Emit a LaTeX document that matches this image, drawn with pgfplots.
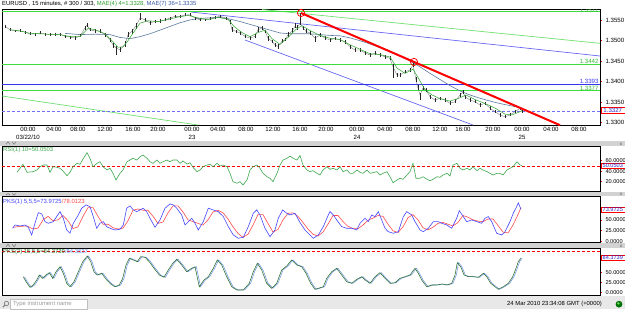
\documentclass[border=0pt]{standalone}
\usepackage{fontspec}
\setmainfont{Liberation Sans}
\usepackage{pgfplots}
\usepackage{pgfplotstable}
\pgfplotsset{compat=1.18}

\definecolor{sepgray}{HTML}{D2D2D2}
\definecolor{statusgray}{HTML}{E8E8E8}
\definecolor{lvlgreen}{HTML}{3DDC3D}
\definecolor{lvlblue}{HTML}{3434F0}
\definecolor{chanblue}{HTML}{6868F4}
\definecolor{changreen}{HTML}{70E070}
\definecolor{maslow}{HTML}{5B7A9E}
\definecolor{mafast}{HTML}{3BAA3B}
\definecolor{rsigreen}{HTML}{3DA84D}
\definecolor{pksblue}{HTML}{4646FF}
\definecolor{pksred}{HTML}{FF4A4A}
\definecolor{pkgreen}{HTML}{2A6E2E}
\definecolor{pkblue}{HTML}{6A90E0}
\definecolor{titleblue}{HTML}{3A5BA8}
\definecolor{titlegreen}{HTML}{2EA02E}
\definecolor{boxtext}{HTML}{2424C8}

\newcommand{\tickfont}{\fontsize{6.1}{7.3}\selectfont}
\newcommand{\osctickfont}{\fontsize{5.6}{6.5}\selectfont}
\newcommand{\smallfont}{\fontsize{5.9}{7}\selectfont}

% EURUSD 15-minute bars: position, close, upper wick, lower wick
\pgfplotstableread{
x c up dn
5 1.35352 .0004 .0004
10 1.35269 .0005 .0003
15 1.35244 .0003 .0004
20 1.35237 .0004 .0003
25 1.35212 .0003 .0004
30 1.35163 .0005 .0003
35 1.35163 .0003 .0004
40 1.35188 .0004 .0003
45 1.35163 .0003 .0004
50 1.35151 .0004 .0003
55 1.35146 .0004 .0004
60 1.35163 .0003 .0004
65 1.35107 .0004 .0005
70 1.35090 .0003 .0004
75 1.35065 .0004 .0005
80 1.35114 .0006 .0003
85 1.35310 .0006 .0005
87 1.35384 .0005 .0004
90 1.35269 .0005 .0004
95 1.35237 .0004 .0004
100 1.35237 .0004 .0005
105 1.35146 .0005 .0005
110 1.35024 .0004 .0006
113 1.34901 .0005 .0008
116 1.34820 .0006 .0016
120 1.34779 .0007 .0006
125 1.34901 .0008 .0005
128 1.35146 .0007 .0006
132 1.35237 .0006 .0007
136 1.35359 .0008 .0006
140 1.35555 .0012 .0005
145 1.35514 .0005 .0005
150 1.35433 .0004 .0004
155 1.35475 .0004 .0004
160 1.35475 .0005 .0003
165 1.35514 .0004 .0004
170 1.35555 .0003 .0004
175 1.35597 .0004 .0003
180 1.35597 .0003 .0004
185 1.35629 .0004 .0003
190 1.35636 .0004 .0003
195 1.35555 .0003 .0005
200 1.35514 .0004 .0004
205 1.35514 .0003 .0004
210 1.35538 .0004 .0003
215 1.35573 .0003 .0004
220 1.35597 .0004 .0003
226 1.35555 .0003 .0005
230 1.35475 .0004 .0006
232 1.35269 .0006 .0005
236 1.35230 .0004 .0005
240 1.35188 .0005 .0004
245 1.35107 .0004 .0005
250 1.35065 .0005 .0004
255 1.35107 .0006 .0004
258 1.35269 .0006 .0005
262 1.35310 .0005 .0004
265 1.35230 .0004 .0005
268 1.35065 .0005 .0006
272 1.34985 .0004 .0005
275 1.34901 .0004 .0006
278 1.34862 .0005 .0006
282 1.34985 .0006 .0004
285 1.35024 .0005 .0004
288 1.35146 .0006 .0005
292 1.35230 .0007 .0004
295 1.35352 .0009 .0005
297 1.35310 .0008 .0005
300 1.35433 .00245 .0005
303 1.35310 .0006 .0005
306 1.35230 .0005 .0004
310 1.35188 .0004 .0005
315 1.35065 .0005 .0009
320 1.35139 .0004 .0005
325 1.35065 .0004 .0004
330 1.35016 .0005 .0004
335 1.35058 .0004 .0005
340 1.35016 .0004 .0004
345 1.34975 .0005 .0005
350 1.34852 .0004 .0005
355 1.34771 .0005 .0004
360 1.34771 .0004 .0005
365 1.34698 .0005 .0004
370 1.34649 .0004 .0005
375 1.34691 .0005 .0004
380 1.34649 .0004 .0004
385 1.34607 .0004 .0005
390 1.34568 .0005 .0004
393 1.34362 .0006 .0028
397 1.34159 .0005 .0005
400 1.34159 .0004 .0005
405 1.34240 .0005 .0004
410 1.34281 .0005 .0004
413 1.34404 .0007 .0005
416 1.34036 .0008 .0006
418 1.33840 .0007 .0006
420 1.33669 .0005 .0012
423 1.33840 .0005 .0005
426 1.33791 .0004 .0006
430 1.33627 .0005 .0005
435 1.33546 .0005 .0004
440 1.33588 .0004 .0005
445 1.33546 .0005 .0004
450 1.33466 .0005 .0004
455 1.33505 .0006 .0004
460 1.33669 .0006 .0005
463 1.33750 .0004 .0006
465 1.33627 .0005 .0005
470 1.33546 .0004 .0005
475 1.33505 .0005 .0004
480 1.33424 .0004 .0005
485 1.33466 .0004 .0004
490 1.33343 .0005 .0004
495 1.33260 .0004 .0004
500 1.33179 .0004 .0005
505 1.33137 .0004 .0004
510 1.33179 .0005 .0003
515 1.33260 .0004 .0004
520 1.33343 .0003 .0004
522 1.33270 .0004 .0003
}\pricetab

% RSI(1) 10
\pgfplotstableread{
x v
17 37.7
20 45.3
23 52.8
27 37.7
33 38.9
37 42.1
40 48.3
43 51.5
47 51.5
50 37.7
53 48.3
57 47.2
60 45.3
63 40.2
67 31.3
70 37.7
73 48.3
77 54.7
80 52.8
83 62.8
87 74.7
90 64.2
93 48.3
97 54.7
100 57.7
103 48.3
107 42.1
110 45.3
113 35.8
116 23.2
120 35.8
123 42.1
127 57.7
130 60.9
133 64.2
137 60.9
140 67.2
143 70.4
147 64.2
150 57.7
153 54.7
157 60.9
160 54.7
163 57.7
167 60.9
170 57.7
173 60.9
177 60.9
180 54.7
183 59.1
187 53.4
190 55.8
193 47.2
197 38.9
200 42.1
203 48.3
207 51.5
210 52.8
213 48.3
217 54.7
220 49.6
223 51.5
227 48.3
230 35.8
233 20.0
237 17.0
240 20.0
243 13.8
247 23.2
250 42.1
253 48.3
257 51.5
260 45.3
263 35.8
267 29.4
270 26.4
273 20.0
277 35.8
280 51.5
283 60.9
287 64.2
290 68.5
293 64.2
297 60.9
300 69.4
303 51.5
307 42.1
310 38.9
313 40.8
317 35.8
320 32.6
323 42.1
327 48.3
330 43.4
333 45.3
337 42.1
340 48.3
343 38.9
347 42.1
350 35.8
353 35.8
357 42.1
360 37.7
363 35.8
367 42.1
370 35.8
373 37.0
377 38.9
380 32.6
383 35.8
387 38.9
390 29.4
393 18.1
397 23.2
400 26.4
403 24.5
407 32.6
410 38.9
413 54.7
416 26.4
420 26.4
423 29.4
427 24.5
430 21.9
433 24.5
437 29.4
440 28.3
443 32.6
447 35.8
450 30.8
453 51.5
457 54.7
460 45.3
463 42.1
467 45.3
470 42.1
473 48.3
477 40.8
480 45.3
483 42.1
487 38.9
490 35.8
493 32.6
497 35.8
500 35.8
503 32.6
507 42.1
510 45.3
513 48.3
517 57.7
520 51.5
522 50.05
}\rsitab

% PKS(1) 5,5,5 main line
\pgfplotstableread{
x v
12.7 30.7
15 38.3
20 36.0
25 38.3
28.3 33.0
31.7 15.4
35 42.2
38.3 66.5
41.7 63.5
45 45.9
48.3 42.2
53.3 45.9
56.7 57.4
60 68.8
63.3 53.7
66.7 26.8
70 19.3
73.3 42.2
78.3 61.2
81.7 76.6
86 84.2
90 80.3
93.3 57.4
96.7 30.7
100 42.2
103.3 45.9
106.7 34.4
110 30.7
115 26.8
120 28.4
123.3 38.3
126.7 76.6
130 81.9
133.3 72.7
136.7 68.8
140 72.7
143.3 76.6
146.7 68.8
150 53.7
155 33.0
160 49.8
165 76.6
170 86.5
173.3 84.2
176.7 76.6
181.7 61.2
185 38.3
188.3 45.9
191.7 53.7
195 42.2
198.3 26.8
203.3 45.9
208.3 76.6
213.3 72.7
218.3 68.8
223.3 57.4
228.3 34.4
233.3 15.4
238.3 7.8
243.3 10.1
248.3 34.4
253.3 65.1
256.7 72.7
260 61.2
265 30.7
270 11.5
275 26.8
278.3 53.7
282.7 72.7
286.7 65.1
290 61.2
295 65.1
300 44.0
305 26.8
310 15.4
313.3 7.8
318.3 15.4
323.3 34.4
328.3 61.2
330 68.8
333.3 61.2
336.7 49.8
341.7 34.4
346.7 30.7
351.7 30.7
356.7 26.8
360 42.2
365 53.7
368.3 45.9
371.7 61.2
375 57.4
378.3 68.8
381.7 49.8
385 30.7
388.3 22.9
393.3 19.3
398.3 22.9
403.3 57.4
406.7 68.8
411.7 61.2
415 45.9
420 26.8
423.3 22.9
428.3 30.7
433.3 45.9
438.3 45.9
441.7 42.2
446.7 38.3
451.7 30.7
456.7 53.7
459.3 71.1
463.3 57.4
466.7 45.9
471.7 49.8
476.7 45.9
481.7 42.2
485 53.7
488.3 57.4
491.7 45.9
496.7 19.3
501.7 15.4
505 22.9
510 45.9
513.3 65.1
516.7 80.3
518.3 88.8
521 74.0
}\pksk

% PKS(1) 5,5,5 signal line
\pgfplotstableread{
x v
13 33
20 35
27 36
33 29
38 31
43 50
48 58
53 48
58 50
63 60
68 48
73 30
78 34
83 58
88 78
93 78
98 58
103 40
108 40
113 32
118 29
123 31
128 48
133 72
138 75
143 72
148 72
153 58
158 42
163 45
168 66
173 82
178 82
183 68
188 50
193 46
198 42
203 38
208 50
213 68
218 72
223 66
228 52
233 34
238 19
243 10
248 17
253 38
258 62
263 62
268 42
273 22
278 28
283 50
288 65
293 66
298 58
303 44
308 29
313 17
318 13
323 22
328 40
333 60
338 60
343 46
348 35
353 30
358 30
363 38
368 49
373 54
378 60
383 58
388 40
393 25
398 21
403 34
408 55
413 62
418 50
423 32
428 27
433 33
438 42
443 44
448 40
453 36
458 44
463 60
468 56
473 50
478 47
483 46
488 52
493 52
498 37
503 22
508 20
513 38
518 62
521 78
}\pksd

% PKS(2) 15,5,5
\pgfplotstableread{
x v
23.3 39.0
26 26.8
30 13.2
33.3 18.8
36.7 31.0
39.3 43.2
42.7 35.1
46 43.2
49.3 48.8
52.7 35.1
56 51.2
60 63.4
63.3 47.3
66.7 22.9
70 14.6
74 26.8
78.3 51.2
82.7 75.6
87.3 89.5
90.7 75.6
94 51.2
97.3 43.2
101.7 47.3
106.7 31.0
110.7 21.2
115 14.6
119.3 18.8
122.7 35.1
126 67.6
129.3 83.9
133.3 79.8
137.3 75.6
140.7 87.8
145 86.3
149.3 75.6
154 59.5
159.3 43.2
164 37.6
168.3 55.4
172.7 71.7
176.7 81.5
181.7 67.6
186.7 51.2
191.7 59.5
195 63.4
199.3 14.6
204 31.0
208.3 39.0
213.3 59.5
217.3 79.8
221.7 67.6
226.7 39.0
231.7 14.6
236.7 6.6
243.3 6.6
249.3 22.9
253.3 51.2
257.3 71.7
261.7 55.4
266.7 22.9
271.7 10.7
276.7 22.9
281.7 55.4
286.7 65.1
291.7 79.8
296.7 67.6
301.7 63.4
306 47.3
310.7 22.9
315 8.3
318.3 10.7
323.3 14.6
326.7 35.1
331.7 51.2
336.7 59.5
341.7 43.2
346.7 26.8
351.7 22.9
356.7 32.7
361.7 39.0
365 31.0
370 22.9
375 39.0
380 48.8
385 35.1
390 22.9
395 24.4
400 35.1
405 39.0
410 43.2
415 59.5
418.3 47.3
421.7 31.0
426.7 14.6
431.7 18.8
436.7 18.8
441.7 21.2
446.7 18.8
451.7 22.9
455 43.2
457.3 73.2
460.7 63.4
464 43.2
468.3 39.0
473.3 39.0
478.3 37.6
483.3 47.3
486.7 39.0
490.7 22.9
495 14.6
498.3 8.3
503.3 14.6
508.3 22.9
512.7 39.0
516 59.5
518.3 75.6
520 81.5
521 84.4
}\pkstwo

\pgfplotsset{
  panel/.style={
    scale only axis, anchor=north west,
    xmin=2, xmax=600, width=598pt,
    axis line style={black, line width=0.8pt},
    ticklabel style={font=\tickfont},
    ytick pos=right, yticklabel pos=right,
    ytick style={red, line width=0.6pt},
    major tick length=2pt, tick align=outside,
    xtick=\empty,
    yticklabel style={/pgf/number format/.cd, fixed, fixed zerofill, precision=4},
    /pgf/number format/assume math mode=true,
  },
  oscillator/.style={panel, ticklabel style={font=\osctickfont}},
}

\begin{document}
\begin{tikzpicture}
\useasboundingbox (0pt,0pt) rectangle (625pt,309pt);
\fill[white] (0pt,0pt) rectangle (625pt,309pt);

% ---------------- price panel ----------------
\begin{axis}[panel, at={(2pt,299.5pt)}, height=115.5pt,
  ymin=1.32934, ymax=1.35765,
  ytick={1.33,1.335,1.34,1.345,1.35,1.355},
  xtick={28,54,78,105,133,158,192,218,246,273,300,326,357,385,413,440,463,493,522,551,579},
  xticklabels={{00:00\\03/22/10},04:00,08:00,12:00,16:00,20:00,{00:00\\23},04:00,08:00,12:00,16:00,20:00,{00:00\\24},04:00,08:00,12:00,16:00,20:00,{00:00\\25},04:00,08:00},
  xtick style={draw=none},
  xticklabel style={align=center, anchor=north, inner sep=0.5pt},
]
% channels and levels
\addplot[changreen, line width=0.7pt] coordinates {(262,1.35765) (600,1.34936)};
\addplot[changreen, line width=0.7pt] coordinates {(2,1.33645) (198,1.32934)};
\addplot[chanblue, line width=0.7pt] coordinates {(191,1.35703) (600,1.34625)};
\addplot[chanblue, line width=0.7pt] coordinates {(245,1.35017) (473,1.32934)};
\addplot[lvlgreen, line width=0.8pt] coordinates {(2,1.3571) (600,1.3571)};
\addplot[lvlgreen, line width=0.8pt] coordinates {(2,1.3442) (600,1.3442)};
\addplot[lvlgreen, line width=0.8pt] coordinates {(2,1.3377) (600,1.3377)};
\addplot[lvlblue, line width=0.8pt] coordinates {(2,1.3393) (600,1.3393)};
\addplot[lvlblue!70, line width=0.7pt, dashed, dash pattern=on 3pt off 2pt] coordinates {(2,1.3327) (600,1.3327)};
% moving averages
\addplot[maslow, line width=0.6pt] coordinates {
(65,1.3518) (80,1.3515) (95,1.3516) (110,1.3515) (120,1.3508) (130,1.3505)
(140,1.3510) (150,1.3517) (160,1.3526) (170,1.3535) (180,1.3544) (190,1.3551)
(200,1.3555) (210,1.3556) (220,1.3557) (230,1.3553) (240,1.3547) (250,1.3540)
(260,1.3533) (270,1.3526) (280,1.3519) (290,1.3517) (300,1.3517) (310,1.3517)
(320,1.3515) (330,1.3513) (340,1.3512) (350,1.3507) (360,1.3500) (370,1.3492)
(380,1.3483) (390,1.3474) (400,1.3462) (410,1.3450) (420,1.3436) (430,1.3420)
(440,1.3405) (450,1.3390) (460,1.3377) (470,1.3367) (480,1.3359) (490,1.3352)
(500,1.3346) (510,1.3341) (522,1.3335)};
% price bars
\addplot[black!55, line width=0.35pt,
  error bars/.cd, y dir=both, y explicit, error mark=none,
  error bar style={black!85, line width=0.45pt}]
  table[x=x, y=c, y error plus=up, y error minus=dn] {\pricetab};
\addplot[mafast, line width=0.55pt] coordinates {
(10,1.3527) (20,1.3524) (30,1.3518) (40,1.3517) (50,1.3516) (60,1.3515)
(70,1.3510) (80,1.3510) (88,1.3530) (95,1.3527) (105,1.3517) (112,1.3500)
(118,1.3484) (123,1.3485) (128,1.3500) (134,1.3522) (140,1.3543) (148,1.3549)
(158,1.3547) (168,1.3552) (178,1.3558) (188,1.3562) (198,1.3556) (208,1.3552)
(218,1.3557) (228,1.3553) (234,1.3535) (242,1.3520) (250,1.3510) (258,1.3520)
(265,1.3526) (272,1.3505) (280,1.3491) (288,1.3508) (296,1.3528) (302,1.3537)
(310,1.3525) (320,1.3513) (330,1.3506) (340,1.3503) (350,1.3490) (360,1.3479)
(370,1.3468) (380,1.3466) (390,1.3460) (397,1.3433) (405,1.3420) (413,1.3430)
(418,1.3410) (425,1.3380) (432,1.3367) (440,1.3358) (450,1.3352) (460,1.3360)
(466,1.3367) (475,1.3356) (485,1.3346) (495,1.3335) (505,1.3320) (512,1.3318)
(518,1.3324) (522,1.3328)};
% resistance trend line through the two touched highs
\addplot[red, line width=2pt] coordinates {(301,1.3568) (560,1.3293)};
\addplot[red, only marks, mark=o, mark size=3.6pt, mark options={line width=0.8pt}]
  coordinates {(301,1.3568) (414,1.3448)};
\node[anchor=south east, inner sep=0.3pt, font=\tickfont, text=lvlgreen!85!black] at (axis cs:599,1.3569) {1.3571};
\node[anchor=south east, inner sep=0.3pt, font=\tickfont, text=lvlgreen!85!black] at (axis cs:599,1.3442) {1.3442};
\node[anchor=south east, inner sep=0.3pt, font=\tickfont, text=lvlblue] at (axis cs:599,1.3393) {1.3393};
\node[anchor=south east, inner sep=0.3pt, font=\tickfont, text=lvlgreen!85!black] at (axis cs:599,1.3377) {1.3377};
\end{axis}

% ---------------- RSI panel ----------------
\begin{axis}[oscillator, at={(2pt,163pt)}, height=45.7pt,
  ymin=1.1, ymax=87.4, ytick={20,40,60}]
\addplot[red, line width=0.6pt, dashed, dash pattern=on 3pt off 2pt] coordinates {(2,50) (600,50)};
\addplot[rsigreen, line width=0.6pt] table[x=x, y=v] {\rsitab};
\end{axis}

% ---------------- PKS(1) panel ----------------
\begin{axis}[oscillator, at={(2pt,112.3pt)}, height=45.6pt,
  ymin=-1.4, ymax=103, ytick={0,25,50}]
\addplot[pksred, line width=0.6pt] table[x=x, y=v] {\pksd};
\addplot[pksblue, line width=0.6pt] table[x=x, y=v] {\pksk};
\end{axis}

% ---------------- PKS(2) panel ----------------
\begin{axis}[oscillator, at={(2pt,60.7pt)}, height=46.7pt,
  ymin=-5.6, ymax=108.3, ytick={0,25,50}]
\addplot[red, line width=0.6pt, dashed, dash pattern=on 3pt off 2pt] coordinates {(2,100) (600,100)};
\addplot[pkblue, line width=0.5pt, xshift=1.3pt] table[x=x, y=v] {\pkstwo};
\addplot[pkgreen, line width=0.55pt] table[x=x, y=v] {\pkstwo};
\end{axis}

\begin{scope}[x=1pt, y=1pt]
% panel captions
\node[anchor=west, inner sep=0pt, font=\smallfont] at (2,305)
  {EURUSD , 15 minutes, \# 300 / 303, \textcolor{titlegreen}{MAE(4) 4=1.3328,} \textcolor{titleblue}{MAE(7) 36=1.3335}};
\node[anchor=west, inner sep=0pt, font=\smallfont, text=rsigreen] at (3,159.5) {RSI(1) 10=50.0503};
\node[anchor=west, inner sep=0pt, font=\smallfont, text=pksblue] at (3,107.3) {PKS(1) 5,5,5=73.9725\textcolor{pksred}{/78.0123}};
\node[anchor=west, inner sep=0pt, font=\smallfont, text=pkgreen] at (3,57.3) {PKS(2) 15,5,5=84.3739\textcolor{pkblue}{/84.3637}};

% separators between panels
\foreach \yb/\yt in {163.5/168.5, 112.7/116.7, 61/66} {
  \fill[sepgray] (0,\yb) rectangle (625,\yt);
  \draw[black!55, line width=0.5pt] (6,\yb+1.2) -- (8,\yt-1.2) -- (10,\yb+1.2);
  \draw[black!55, line width=0.5pt] (12,\yt-1.2) -- (14,\yb+1.2) -- (16,\yt-1.2);
  \node[font=\fontsize{4.5}{4.5}\selectfont, text=black!70, inner sep=0pt] at (621,\yb+1.6) {x};
}

% current-value boxes on the value scales
\node[anchor=west, draw=red, fill=white, line width=0.6pt, inner sep=0.6pt, minimum width=24pt, font=\tickfont, text=boxtext] at (600.5,198.5) {1.3327};
\node[anchor=west, draw=red, fill=white, line width=0.6pt, inner sep=0.5pt, minimum width=24pt, font=\osctickfont, text=boxtext] at (600.5,143) {50.0503};
\node[anchor=west, draw=red, fill=white, line width=0.6pt, inner sep=0.5pt, minimum width=24pt, font=\osctickfont, text=boxtext] at (600.5,99.6) {73.9725};
\node[anchor=west, draw=red, fill=white, line width=0.6pt, inner sep=0.5pt, minimum width=24pt, font=\osctickfont, text=boxtext] at (600.5,51) {84.3739};

% status bar
\fill[statusgray] (0,0) rectangle (625,13);
\fill[white] (10,0) rectangle (87,10);
\draw[black!25, line width=0.4pt] (10,0) rectangle (87,10);
\draw[black!55, line width=0.6pt] (6.5,5.5) circle (2.2);
\draw[black!55, line width=0.9pt] (4.9,3.9) -- (2.8,1.8);
\node[anchor=west, inner sep=0pt, font=\smallfont, text=black!40] at (13,4.8) {Type instrument name};
\node[anchor=east, inner sep=0pt, font=\smallfont] at (602,4.8) {24 Mar 2010 23:34:08 GMT (+0000)};
\fill[green!45!black] (619,4.8) circle (3.4);
\fill[green!70!black!60!white] (618.3,5.6) circle (1.4);
\end{scope}
\end{tikzpicture}
\end{document}
